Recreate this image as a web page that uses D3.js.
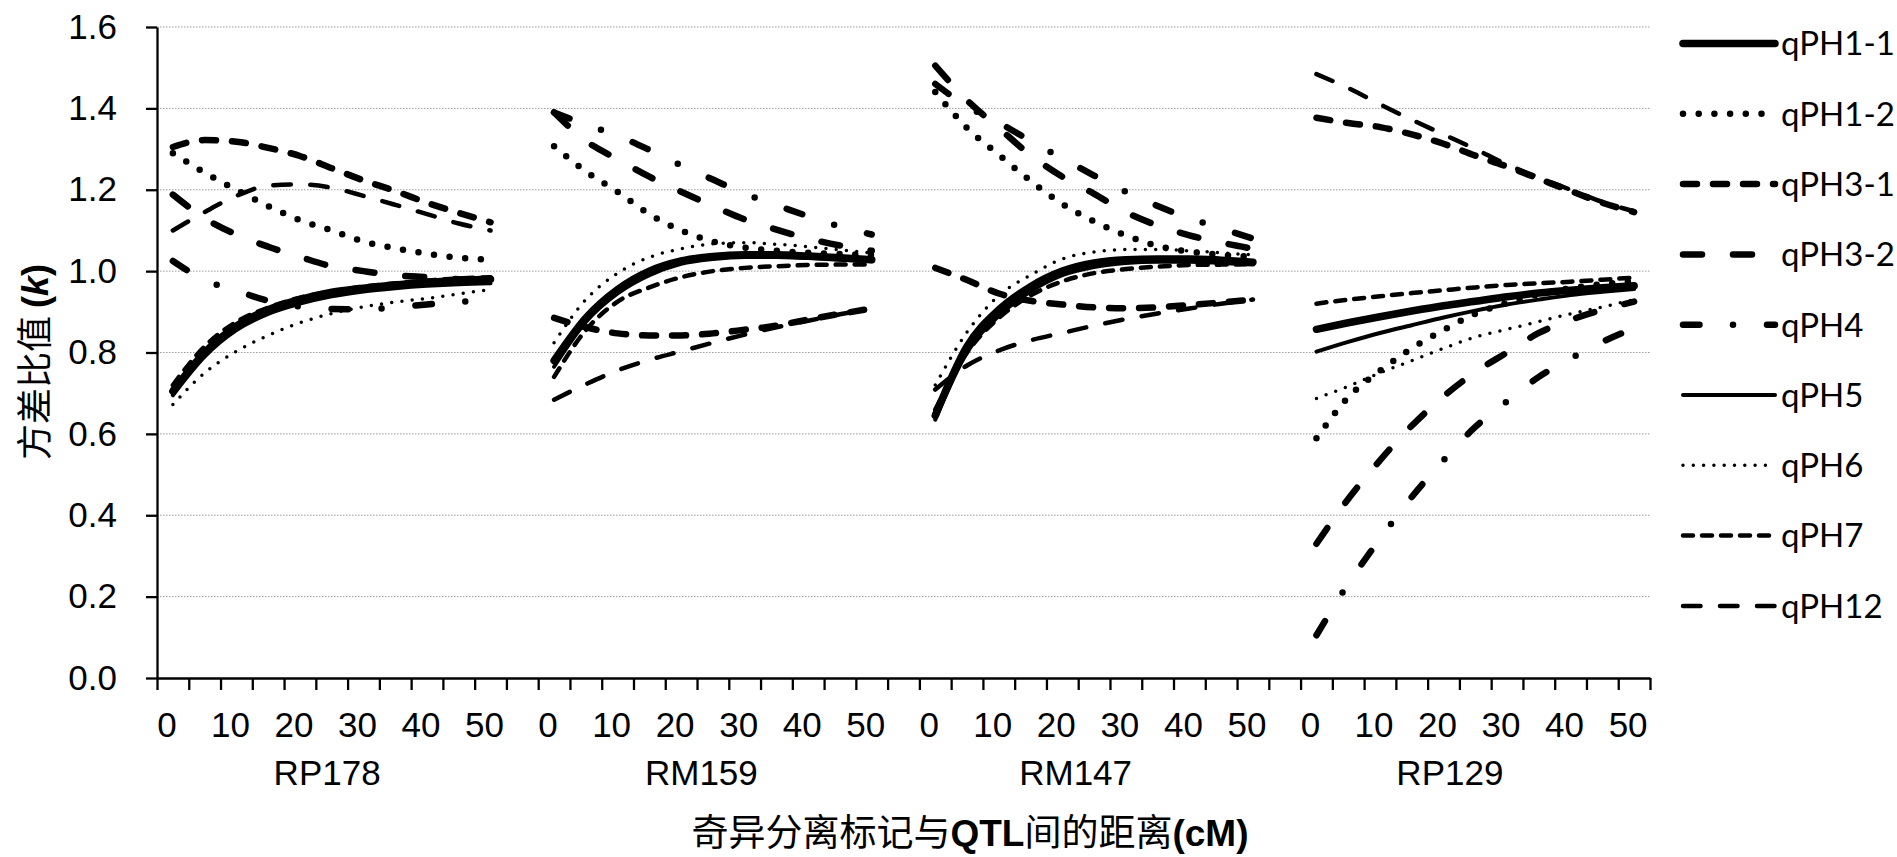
<!DOCTYPE html>
<html>
<head>
<meta charset="utf-8">
<script src="https://cdn.jsdelivr.net/npm/d3@7"></script>
<style>
  body { margin: 0; background: #fff; }
  svg { display: block; }
</style>
</head>
<body>
<div id="chart"></div>
<script>
// distances (cM) sampled in each panel
const distances = [0, 5, 10, 15, 20, 25, 30, 35, 40, 45, 50];
const markers = ["RP178", "RM159", "RM147", "RP129"];
const tickLabels = [0, 10, 20, 30, 40, 50];
const yTickValues = [0, 0.2, 0.4, 0.6, 0.8, 1.0, 1.2, 1.4, 1.6];
const seriesNames = ["qPH1-1", "qPH1-2", "qPH3-1", "qPH3-2", "qPH4", "qPH5", "qPH6", "qPH7", "qPH12"];

// k values, one row per marker panel (RP178, RM159, RM147, RP129)
const qPH1_1 = [
  [0.705, 0.80, 0.865, 0.905, 0.93, 0.948, 0.958, 0.966, 0.972, 0.977, 0.98],
  [0.78, 0.885, 0.955, 1.0, 1.025, 1.036, 1.04, 1.04, 1.037, 1.033, 1.028],
  [0.645, 0.815, 0.905, 0.962, 1.0, 1.02, 1.028, 1.03, 1.03, 1.027, 1.022],
  [0.857, 0.873, 0.888, 0.902, 0.915, 0.926, 0.937, 0.946, 0.953, 0.959, 0.964]
];
const qPH1_2 = [
  [1.29, 1.242, 1.20, 1.16, 1.125, 1.10, 1.073, 1.056, 1.043, 1.033, 1.028],
  [1.307, 1.245, 1.195, 1.14, 1.10, 1.073, 1.058, 1.05, 1.045, 1.042, 1.04],
  [1.44, 1.352, 1.286, 1.222, 1.165, 1.122, 1.088, 1.062, 1.048, 1.04, 1.035],
  [0.589, 0.69, 0.755, 0.81, 0.855, 0.895, 0.922, 0.943, 0.958, 0.968, 0.975]
];
const qPH3_1 = [
  [1.305, 1.322, 1.318, 1.303, 1.283, 1.253, 1.223, 1.197, 1.168, 1.143, 1.12],
  [0.885, 0.862, 0.847, 0.842, 0.842, 0.847, 0.856, 0.866, 0.881, 0.895, 0.908],
  [1.008, 0.978, 0.945, 0.927, 0.918, 0.911, 0.909, 0.911, 0.917, 0.923, 0.93],
  [1.377, 1.364, 1.354, 1.336, 1.313, 1.284, 1.257, 1.227, 1.197, 1.168, 1.145]
];
const qPH3_2 = [
  [1.188, 1.13, 1.09, 1.06, 1.035, 1.012, 1.0, 0.99, 0.985, 0.98, 0.978],
  [1.39, 1.32, 1.275, 1.232, 1.195, 1.16, 1.127, 1.102, 1.08, 1.063, 1.05],
  [1.505, 1.42, 1.352, 1.285, 1.232, 1.19, 1.145, 1.112, 1.088, 1.07, 1.055],
  [0.33, 0.44, 0.535, 0.62, 0.692, 0.752, 0.80, 0.848, 0.88, 0.905, 0.925]
];
const qPH4 = [
  [1.025, 0.978, 0.952, 0.927, 0.913, 0.907, 0.906, 0.911, 0.918, 0.924, 0.93],
  [1.39, 1.36, 1.333, 1.298, 1.26, 1.225, 1.19, 1.162, 1.135, 1.11, 1.09],
  [1.46, 1.405, 1.365, 1.32, 1.277, 1.235, 1.195, 1.16, 1.13, 1.105, 1.08],
  [0.105, 0.232, 0.342, 0.445, 0.535, 0.617, 0.68, 0.74, 0.785, 0.826, 0.86]
];
const qPH5 = [
  [0.695, 0.79, 0.855, 0.895, 0.92, 0.938, 0.95, 0.958, 0.964, 0.968, 0.97],
  [0.765, 0.875, 0.945, 0.99, 1.018, 1.03, 1.035, 1.035, 1.032, 1.028, 1.024],
  [0.635, 0.80, 0.89, 0.95, 0.99, 1.01, 1.02, 1.023, 1.023, 1.02, 1.016],
  [0.802, 0.826, 0.848, 0.867, 0.886, 0.903, 0.918, 0.93, 0.941, 0.949, 0.956]
];
const qPH6 = [
  [0.672, 0.75, 0.803, 0.842, 0.873, 0.896, 0.912, 0.924, 0.933, 0.944, 0.955],
  [0.824, 0.93, 0.995, 1.034, 1.055, 1.067, 1.07, 1.066, 1.06, 1.052, 1.045],
  [0.72, 0.85, 0.94, 0.99, 1.03, 1.047, 1.053, 1.053, 1.05, 1.045, 1.04],
  [0.687, 0.717, 0.75, 0.78, 0.81, 0.838, 0.857, 0.876, 0.895, 0.912, 0.93]
];
const qPH7 = [
  [0.72, 0.815, 0.875, 0.91, 0.935, 0.95, 0.962, 0.97, 0.977, 0.982, 0.985],
  [0.74, 0.855, 0.925, 0.96, 0.985, 1.0, 1.008, 1.012, 1.015, 1.016, 1.016],
  [0.66, 0.80, 0.885, 0.94, 0.975, 0.995, 1.005, 1.011, 1.015, 1.016, 1.017],
  [0.92, 0.93, 0.938, 0.946, 0.953, 0.96, 0.966, 0.97, 0.974, 0.979, 0.984]
];
const qPH12 = [
  [1.10, 1.145, 1.185, 1.21, 1.213, 1.205, 1.185, 1.163, 1.14, 1.117, 1.10],
  [0.684, 0.722, 0.756, 0.782, 0.803, 0.824, 0.844, 0.862, 0.878, 0.894, 0.908],
  [0.709, 0.768, 0.805, 0.83, 0.848, 0.866, 0.882, 0.896, 0.908, 0.92, 0.93],
  [1.484, 1.45, 1.41, 1.372, 1.336, 1.30, 1.262, 1.23, 1.20, 1.17, 1.147]
];

const seriesValues = [qPH1_1, qPH1_2, qPH3_1, qPH3_2, qPH4, qPH5, qPH6, qPH7, qPH12];

// line look per series (width, dash)
const styles = {
  "qPH1-1": {w: 7.5, dash: null},
  "qPH1-2": {w: 6.5, dash: "0,15.7"},
  "qPH3-1": {w: 6.5, dash: "14,16"},
  "qPH3-2": {w: 6.5, dash: "19,31"},
  "qPH4":   {w: 6.5, dash: "16.5,33.5,0,34"},
  "qPH5":   {w: 4,   dash: null},
  "qPH6":   {w: 3.5, dash: "0,10.3"},
  "qPH7":   {w: 4.5, dash: "10,9"},
  "qPH12":  {w: 4.5, dash: "17.5,19.5"}
};

const width = 1897;
const height = 857;
const panelGap = 60; // each panel is 50 cM wide plus a 10 cM spacer

const svg = d3.select("#chart")
    .append("svg")
    .attr("width", width)
    .attr("height", height);

const x = d3.scaleLinear().domain([-2.5, 232.5]).range([157, 1650]);
const y = d3.scaleLinear().domain([0, 1.6]).range([678, 27]);

// gridlines
svg.append("g")
    .selectAll("line")
    .data(yTickValues.filter(d => d > 0))
    .enter()
    .append("line")
    .attr("x1", x.range()[0])
    .attr("x2", x.range()[1])
    .attr("y1", d => y(d))
    .attr("y2", d => y(d))
    .attr("stroke", "#9c9c9c")
    .attr("stroke-width", 1)
    .attr("stroke-dasharray", "1.5,1.5");

// y axis
const yAxis = svg.append("g")
    .attr("transform", `translate(${x.range()[0]},0)`)
    .call(d3.axisLeft(y).tickValues(yTickValues).tickFormat(d3.format(".1f"))
        .tickSize(11).tickSizeOuter(0).tickPadding(29));
yAxis.select(".domain").attr("stroke", "#000").attr("stroke-width", 2.3);
yAxis.selectAll(".tick line").attr("stroke", "#000").attr("stroke-width", 2.3);
yAxis.selectAll(".tick text")
    .attr("font-family", "'Liberation Sans', Arial, sans-serif")
    .attr("font-size", 35)
    .attr("fill", "#000");

// x axis (one continuous category axis, tick every 5 cM)
const xAxis = svg.append("g")
    .attr("transform", `translate(0,${y(0)})`)
    .call(d3.axisBottom(x).tickValues(d3.range(48).map(k => -2.5 + 5 * k))
        .tickFormat("").tickSize(12).tickSizeOuter(0));
xAxis.select(".domain").attr("stroke", "#000").attr("stroke-width", 2.3);
xAxis.selectAll(".tick line").attr("stroke", "#000").attr("stroke-width", 2.3);

// x tick labels per panel
const labelData = [];
markers.forEach((m, p) => tickLabels.forEach(v => labelData.push({p, v})));
svg.append("g")
    .selectAll("text")
    .data(labelData)
    .enter()
    .append("text")
    .attr("x", d => x(d.p * panelGap + d.v) - 6)
    .attr("y", 737)
    .attr("text-anchor", "middle")
    .attr("font-family", "'Liberation Sans', Arial, sans-serif")
    .attr("font-size", 35)
    .text(d => d.v);

// marker names
const groups = d3.scaleBand().domain(markers).range([140, 1637]);
svg.append("g")
    .selectAll("text")
    .data(markers)
    .enter()
    .append("text")
    .attr("x", d => groups(d) + groups.bandwidth() / 2)
    .attr("y", 785)
    .attr("text-anchor", "middle")
    .attr("font-family", "'Liberation Sans', Arial, sans-serif")
    .attr("font-size", 35)
    .text(d => d);

// series lines
const line = d3.line()
    .x(d => x(d[0]))
    .y(d => y(d[1]))
    .curve(d3.curveMonotoneX);

const plot = svg.append("g");
seriesNames.forEach((name, i) => {
    const st = styles[name];
    seriesValues[i].forEach((vals, p) => {
        const pts = distances.map((dd, j) => [p * panelGap + dd, vals[j]]);
        plot.append("path")
            .attr("d", line(pts))
            .attr("fill", "none")
            .attr("stroke", "#000")
            .attr("stroke-width", st.w)
            .attr("stroke-linecap", "round")
            .attr("stroke-linejoin", "round")
            .attr("stroke-dasharray", st.dash);
    });
});

// legend
const legend = svg.append("g");
seriesNames.forEach((name, i) => {
    const st = styles[name];
    const ly = 43.5 + i * 70.3;
    legend.append("line")
        .attr("x1", 1683).attr("x2", 1775)
        .attr("y1", ly).attr("y2", ly)
        .attr("stroke", "#000")
        .attr("stroke-width", st.w)
        .attr("stroke-linecap", "round")
        .attr("stroke-dasharray", st.dash);
    legend.append("text")
        .attr("x", 1781)
        .attr("y", ly)
        .attr("dy", "0.36em")
        .attr("font-family", "Lato, 'Open Sans', sans-serif")
        .attr("font-size", 33)
        .text(name);
});

// y title
const yTitle = svg.append("text")
    .attr("transform", "translate(48,362) rotate(-90)")
    .attr("text-anchor", "middle")
    .attr("font-size", 36);
yTitle.append("tspan").attr("font-family", "'Noto Sans CJK SC', sans-serif").text("方差比值 ");
yTitle.append("tspan").attr("font-family", "'Liberation Sans', Arial, sans-serif").attr("font-weight", "bold").text("(");
yTitle.append("tspan").attr("font-family", "'Liberation Sans', Arial, sans-serif").attr("font-weight", "bold").attr("font-style", "italic").text("k");
yTitle.append("tspan").attr("font-family", "'Liberation Sans', Arial, sans-serif").attr("font-weight", "bold").text(")");

// x title
const xTitle = svg.append("text")
    .attr("x", 970)
    .attr("y", 846)
    .attr("text-anchor", "middle")
    .attr("font-size", 37);
xTitle.append("tspan").attr("font-family", "'Noto Sans CJK SC', sans-serif").text("奇异分离标记与");
xTitle.append("tspan").attr("font-family", "'Liberation Sans', Arial, sans-serif").attr("font-weight", "bold").text("QTL");
xTitle.append("tspan").attr("font-family", "'Noto Sans CJK SC', sans-serif").text("间的距离");
xTitle.append("tspan").attr("font-family", "'Liberation Sans', Arial, sans-serif").attr("font-weight", "bold").text("(cM)");
</script>
</body>
</html>
